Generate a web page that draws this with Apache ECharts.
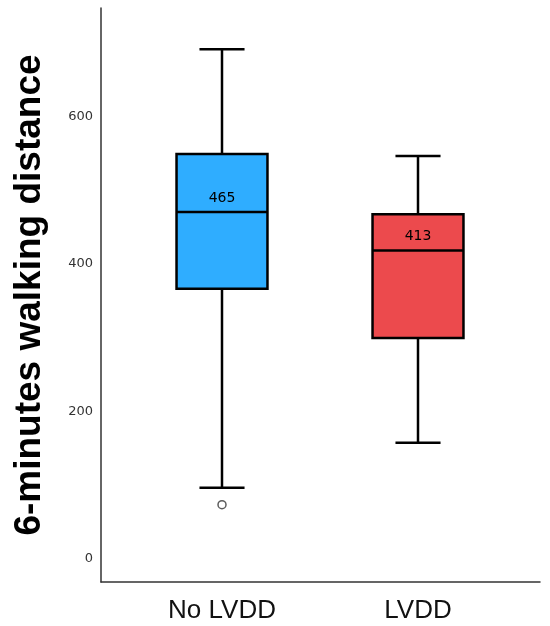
<!DOCTYPE html>
<html>
<head>
<meta charset="utf-8">
<script src="https://cdn.jsdelivr.net/npm/echarts@6/dist/echarts.min.js"></script>
<style>
  html, body { margin: 0; padding: 0; background: #fff; }
  #main-chart { width: 550px; height: 626px; }
</style>
</head>
<body>
<div id="main-chart"></div>
<script>
// Box plot values
const categories = ['No LVDD', 'LVDD'];
const whiskerHigh = [686, 541];
const q3Values = [544, 462];
const medianValues = [465, 413];
const q1Values = [361, 294];
const whiskerLow = [91, 152];
const outliers = [[0, 68]];
const boxColors = ['#2FADFF', '#EC4A4D'];
const yTicks = [0, 200, 400, 600];

document.addEventListener('DOMContentLoaded', function () {
    var myChart = echarts.init(document.getElementById('main-chart'));

    // one row per box: [category, high, q3, median, q1, low]
    var boxData = categories.map(function (c, i) {
        return [i, whiskerHigh[i], q3Values[i], medianValues[i], q1Values[i], whiskerLow[i]];
    });

    var yMin = -37, yMax = 742;

    var option = {
        animation: false,
        grid: [
            // frame grid: draws the axis lines and y labels
            { left: 101, right: 10, top: 8, bottom: 44 },
            // data grid: narrower so the two boxes sit where they do in the picture
            { left: 124, right: 34, top: 8, bottom: 44 }
        ],
        xAxis: [
            {
                gridIndex: 0, type: 'value', min: 0, max: 1,
                axisLine: { show: true, onZero: false, lineStyle: { color: '#333', width: 1.5 } },
                axisTick: { show: false }, axisLabel: { show: false }, splitLine: { show: false }
            },
            {
                gridIndex: 1, type: 'category', data: categories,
                axisLine: { show: false }, axisTick: { show: false },
                axisLabel: { color: '#111', fontSize: 26, fontFamily: 'Liberation Sans', margin: 16 }
            }
        ],
        yAxis: [
            {
                gridIndex: 0, type: 'value', min: yMin, max: yMax,
                name: '6-minutes walking distance',
                nameLocation: 'middle', nameGap: 53,
                nameTextStyle: { fontSize: 37, fontWeight: 'bold', color: '#000', fontFamily: 'Liberation Sans' },
                axisLine: { show: true, lineStyle: { color: '#333', width: 1.5 } },
                axisTick: { show: false },
                splitLine: { show: false },
                axisLabel: {
                    customValues: yTicks, margin: 8,
                    verticalAlign: 'top', lineHeight: 8,
                    color: '#333', fontSize: 13, fontFamily: 'DejaVu Sans'
                }
            },
            {
                gridIndex: 1, type: 'value', min: yMin, max: yMax, show: false
            }
        ],
        series: [
            {
                type: 'custom',
                xAxisIndex: 1, yAxisIndex: 1,
                data: boxData,
                renderItem: function (params, api) {
                    var x = api.value(0);
                    var hi = api.coord([x, api.value(1)]);
                    var q3 = api.coord([x, api.value(2)]);
                    var med = api.coord([x, api.value(3)]);
                    var q1 = api.coord([x, api.value(4)]);
                    var lo = api.coord([x, api.value(5)]);
                    var band = api.size([1, 0])[0];
                    var halfBox = band * 0.232;
                    var halfCap = band * 0.115;
                    var cx = hi[0];
                    var line = { stroke: '#000', lineWidth: 2.5 };
                    return {
                        type: 'group',
                        children: [
                            { type: 'line', shape: { x1: cx, y1: hi[1], x2: cx, y2: q3[1] }, style: line },
                            { type: 'line', shape: { x1: cx - halfCap, y1: hi[1], x2: cx + halfCap, y2: hi[1] }, style: line },
                            { type: 'line', shape: { x1: cx, y1: q1[1], x2: cx, y2: lo[1] }, style: line },
                            { type: 'line', shape: { x1: cx - halfCap, y1: lo[1], x2: cx + halfCap, y2: lo[1] }, style: line },
                            {
                                type: 'rect',
                                shape: { x: cx - halfBox, y: q3[1], width: halfBox * 2, height: q1[1] - q3[1] },
                                style: { fill: boxColors[params.dataIndex], stroke: '#000', lineWidth: 2.5 }
                            },
                            { type: 'line', shape: { x1: cx - halfBox, y1: med[1], x2: cx + halfBox, y2: med[1] }, style: line },
                            {
                                type: 'text',
                                x: cx, y: med[1] - 14,
                                style: {
                                    text: String(api.value(3)),
                                    fill: '#000', fontSize: 14, fontFamily: 'DejaVu Sans',
                                    align: 'center', verticalAlign: 'middle'
                                }
                            }
                        ]
                    };
                }
            },
            {
                type: 'scatter',
                xAxisIndex: 1, yAxisIndex: 1,
                data: outliers,
                symbol: 'circle', symbolSize: 8,
                itemStyle: { color: '#fff', borderColor: '#333', borderWidth: 1.5 }
            }
        ]
    };

    myChart.setOption(option);
});
</script>
</body>
</html>
